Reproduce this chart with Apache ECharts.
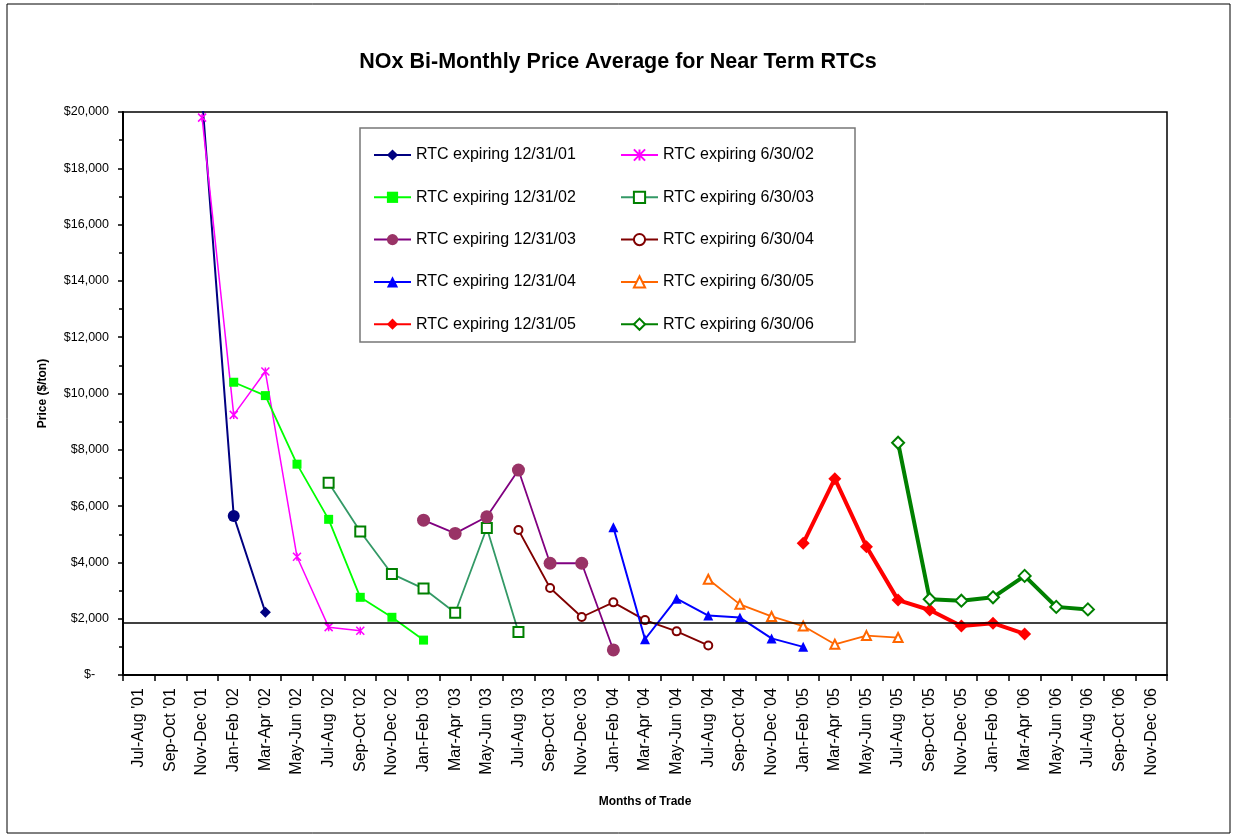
<!DOCTYPE html>
<html>
<head>
<meta charset="utf-8">
<title>NOx Bi-Monthly Price Average for Near Term RTCs</title>
<script src="https://cdn.jsdelivr.net/npm/echarts@6/dist/echarts.min.js"></script>
<style>
  html, body { margin: 0; padding: 0; background: #fff; }
  #main { width: 1236px; height: 836px; }
</style>
</head>
<body>
<div id="main"></div>
<script>
// bi-monthly trading periods (x axis)
const categories = [
  "Jul-Aug '01", "Sep-Oct '01", "Nov-Dec '01",
  "Jan-Feb '02", "Mar-Apr '02", "May-Jun '02", "Jul-Aug '02", "Sep-Oct '02", "Nov-Dec '02",
  "Jan-Feb '03", "Mar-Apr '03", "May-Jun '03", "Jul-Aug '03", "Sep-Oct '03", "Nov-Dec '03",
  "Jan-Feb '04", "Mar-Apr '04", "May-Jun '04", "Jul-Aug '04", "Sep-Oct '04", "Nov-Dec '04",
  "Jan-Feb '05", "Mar-Apr '05", "May-Jun '05", "Jul-Aug '05", "Sep-Oct '05", "Nov-Dec '05",
  "Jan-Feb '06", "Mar-Apr '06", "May-Jun '06", "Jul-Aug '06", "Sep-Oct '06", "Nov-Dec '06"
];

// price per RTC vintage, first value falls on the given start period
const rtc123101Start = "Nov-Dec '01";
const rtc123101 = [20500, 5650, 2230];
const rtc063002Start = "Nov-Dec '01";
const rtc063002 = [19800, 9240, 10780, 4200, 1700, 1570];
const rtc123102Start = "Jan-Feb '02";
const rtc123102 = [10400, 9925, 7490, 5530, 2760, 2050, 1240];
const rtc063003Start = "Jul-Aug '02";
const rtc063003 = [6830, 5100, 3590, 3070, 2210, 5220, 1530];
const rtc123103Start = "Jan-Feb '03";
const rtc123103 = [5500, 5030, 5620, 7280, 3970, 3970, 890];
const rtc063004Start = "Jul-Aug '03";
const rtc063004 = [5150, 3090, 2060, 2580, 1950, 1550, 1050];
const rtc123104Start = "Jan-Feb '04";
const rtc123104 = [5250, 1270, 2710, 2110, 2040, 1300, 1000];
const rtc063005Start = "Jul-Aug '04";
const rtc063005 = [3400, 2510, 2080, 1740, 1090, 1400, 1330];
const rtc123105Start = "Jan-Feb '05";
const rtc123105 = [4680, 6975, 4560, 2660, 2310, 1740, 1840, 1460];
const rtc063006Start = "Jul-Aug '05";
const rtc063006 = [8250, 2690, 2640, 2760, 3520, 2420, 2330];

// horizontal reference line
const referencePrice = 1860;

// y axis
const yMin = 0;
const yMax = 20000;
const yStep = 2000;

const FONT = "'Liberation Sans', Arial, sans-serif";

// spread a short run of values over the full category axis
function spread(start, values) {
  const out = categories.map(() => null);
  const i0 = categories.indexOf(start);
  values.forEach((v, i) => { out[i0 + i] = v; });
  return out;
}

function makeSeries(name, start, values, style) {
  let data = spread(start, values);
  if (style.pointSymbols) {
    const i0 = categories.indexOf(start);
    Object.keys(style.pointSymbols).forEach(k => {
      const idx = i0 + Number(k);
      data[idx] = { value: data[idx], symbol: style.pointSymbols[k], symbolSize: 12 };
    });
  }
  return {
    name: name,
    type: 'line',
    data: data,
    connectNulls: false,
    symbol: style.symbol,
    symbolSize: style.size,
    showAllSymbol: true,
    lineStyle: { color: style.line, width: style.width },
    itemStyle: {
      color: style.marker,
      borderColor: style.border || style.marker,
      borderWidth: style.borderWidth || 0
    },
    emphasis: { disabled: true },
    z: style.z || 2
  };
}

const xMark = 'path://M0,0L10,10M10,0L0,10M5,0L5,10';

const series = [
  makeSeries('RTC expiring 12/31/01', rtc123101Start, rtc123101,
    { symbol: 'diamond', size: 11, line: '#000080', marker: '#000080', width: 2, pointSymbols: { 1: 'circle' } }),
  makeSeries('RTC expiring 6/30/02', rtc063002Start, rtc063002,
    { symbol: xMark, size: 8, line: '#FF00FF', marker: '#FF00FF', border: '#FF00FF', borderWidth: 1.5, width: 1.5 }),
  makeSeries('RTC expiring 12/31/02', rtc123102Start, rtc123102,
    { symbol: 'rect', size: 9, line: '#00FF00', marker: '#00FF00', width: 1.8 }),
  makeSeries('RTC expiring 6/30/03', rtc063003Start, rtc063003,
    { symbol: 'emptyRect', size: 10, line: '#339966', marker: '#008000', width: 1.8 }),
  makeSeries('RTC expiring 12/31/03', rtc123103Start, rtc123103,
    { symbol: 'circle', size: 13, line: '#800080', marker: '#993366', width: 1.8 }),
  makeSeries('RTC expiring 6/30/04', rtc063004Start, rtc063004,
    { symbol: 'emptyCircle', size: 8, line: '#800000', marker: '#800000', width: 1.8 }),
  makeSeries('RTC expiring 12/31/04', rtc123104Start, rtc123104,
    { symbol: 'triangle', size: 10, line: '#0000FF', marker: '#0000FF', width: 2 }),
  makeSeries('RTC expiring 6/30/05', rtc063005Start, rtc063005,
    { symbol: 'emptyTriangle', size: 9, line: '#FF6600', marker: '#FF6600', width: 1.8 }),
  makeSeries('RTC expiring 12/31/05', rtc123105Start, rtc123105,
    { symbol: 'diamond', size: 13, line: '#FF0000', marker: '#FF0000', width: 4 }),
  makeSeries('RTC expiring 6/30/06', rtc063006Start, rtc063006,
    { symbol: 'emptyDiamond', size: 12, line: '#008000', marker: '#008000', width: 4 })
];

// reference line across the plot
series[series.length - 1].markLine = {
  silent: true,
  symbol: 'none',
  label: { show: false },
  lineStyle: { color: '#000', width: 1.5, type: 'solid' },
  emphasis: { disabled: true },
  data: [{ yAxis: referencePrice }]
};

const leftNames = series.filter((s, i) => i % 2 === 0).map(s => s.name);
const rightNames = series.filter((s, i) => i % 2 === 1).map(s => s.name);

const legendBase = {
  orient: 'vertical',
  top: 147,
  padding: 0,
  itemWidth: 37,
  itemHeight: 14,
  itemGap: 26.3,
  selectedMode: false,
  textStyle: { fontSize: 16, color: '#000', fontFamily: FONT }
};

const chart = echarts.init(document.getElementById('main'), null, { renderer: 'canvas' });

const option = {
  animation: false,
  backgroundColor: '#fff',
  textStyle: { fontFamily: FONT },
  title: {
    text: 'NOx Bi-Monthly Price Average for Near Term RTCs',
    left: 'center',
    top: 46,
    textStyle: { fontSize: 21.5, fontWeight: 'bold', color: '#000', fontFamily: FONT }
  },
  graphic: [
    {
      type: 'rect', z: -1, silent: true,
      shape: { x: 7, y: 4, width: 1223, height: 829 },
      style: { fill: 'none', stroke: '#000', lineWidth: 1 }
    },
    {
      type: 'rect', z: -1, silent: true,
      shape: { x: 360, y: 128, width: 495, height: 214 },
      style: { fill: '#fff', stroke: '#777', lineWidth: 1.5 }
    }
  ],
  legend: [
    Object.assign({}, legendBase, { left: 373, data: leftNames }),
    Object.assign({}, legendBase, { left: 620, data: rightNames })
  ],
  grid: {
    left: 123,
    right: 69,
    top: 112,
    bottom: 161,
    show: true,
    borderColor: '#000',
    borderWidth: 1.5
  },
  xAxis: {
    type: 'category',
    data: categories,
    boundaryGap: true,
    name: 'Months of Trade',
    nameLocation: 'middle',
    nameGap: 121,
    nameTextStyle: { fontSize: 12, fontWeight: 'bold', color: '#000', fontFamily: FONT },
    axisLine: { lineStyle: { color: '#000', width: 2 } },
    axisTick: { show: true, length: 6, lineStyle: { color: '#000', width: 1.5 } },
    axisLabel: { rotate: 90, interval: 0, fontSize: 16, color: '#000', margin: 13, fontFamily: FONT },
    splitLine: { show: false }
  },
  yAxis: {
    type: 'value',
    min: yMin,
    max: yMax,
    interval: yStep,
    name: 'Price ($/ton)',
    nameLocation: 'middle',
    nameGap: 74,
    nameTextStyle: { fontSize: 12, fontWeight: 'bold', color: '#000', fontFamily: FONT },
    axisLine: { show: true, lineStyle: { color: '#000', width: 2 } },
    axisTick: { show: true, length: 5, lineStyle: { color: '#000', width: 1.5 } },
    minorTick: { show: true, splitNumber: 2, length: 4, lineStyle: { color: '#000', width: 1.5 } },
    splitLine: { show: false },
    axisLabel: {
      fontSize: 12.5,
      color: '#000',
      margin: 14,
      fontFamily: FONT,
      formatter: v => v === 0 ? '$-    ' : '$' + v.toLocaleString('en-US')
    }
  },
  series: series
};

chart.setOption(option);
</script>
</body>
</html>
